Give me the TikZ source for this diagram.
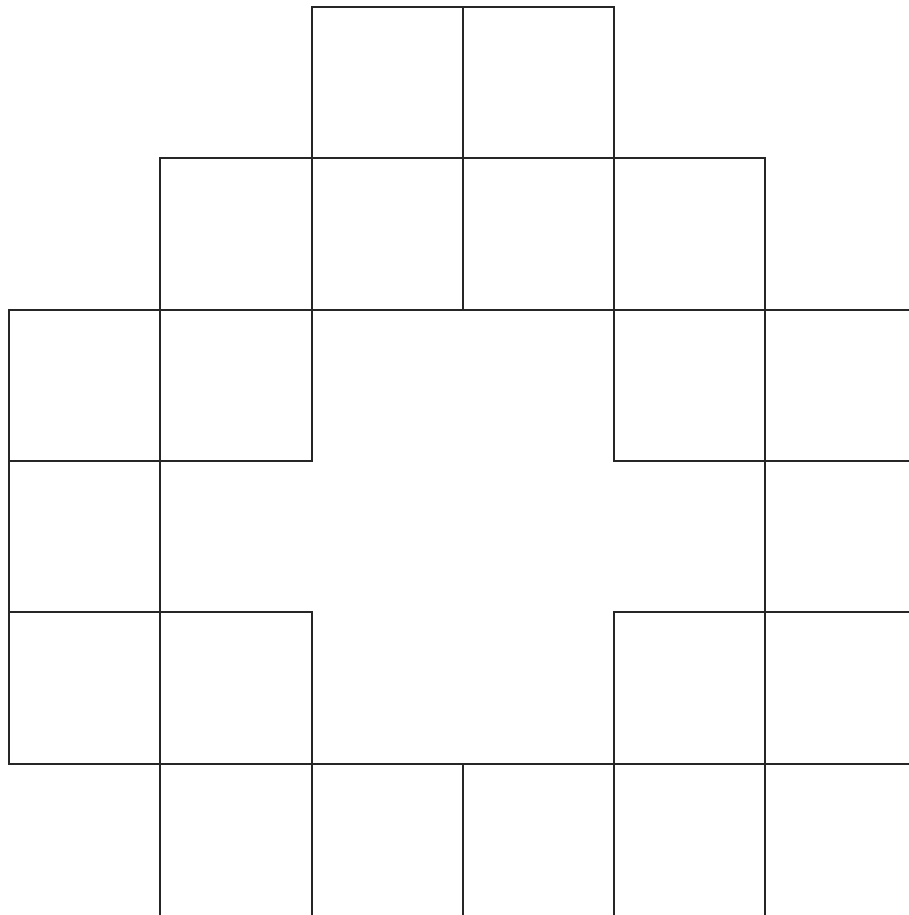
\documentclass[tikz,border=0pt]{standalone}
\begin{document}
\begin{tikzpicture}[x=1pt,y=-1pt,
  gridline/.style={line width=1.8pt,draw=black!85,line cap=rect}]
\useasboundingbox (0,0) rectangle (909,915);
% horizontal lines
\draw[gridline] (312,7) -- (614,7);
\draw[gridline] (160,158) -- (765,158);
\draw[gridline] (9,310) -- (909,310);
\draw[gridline] (9,461) -- (312,461);
\draw[gridline] (614,461) -- (909,461);
\draw[gridline] (9,612) -- (312,612);
\draw[gridline] (614,612) -- (909,612);
\draw[gridline] (9,764) -- (909,764);
% vertical lines
\draw[gridline] (9,310) -- (9,764);
\draw[gridline] (160,158) -- (160,915);
\draw[gridline] (312,7) -- (312,461);
\draw[gridline] (312,612) -- (312,915);
\draw[gridline] (463,7) -- (463,310);
\draw[gridline] (463,764) -- (463,915);
\draw[gridline] (614,7) -- (614,461);
\draw[gridline] (614,612) -- (614,915);
\draw[gridline] (765,158) -- (765,915);
\end{tikzpicture}
\end{document}
